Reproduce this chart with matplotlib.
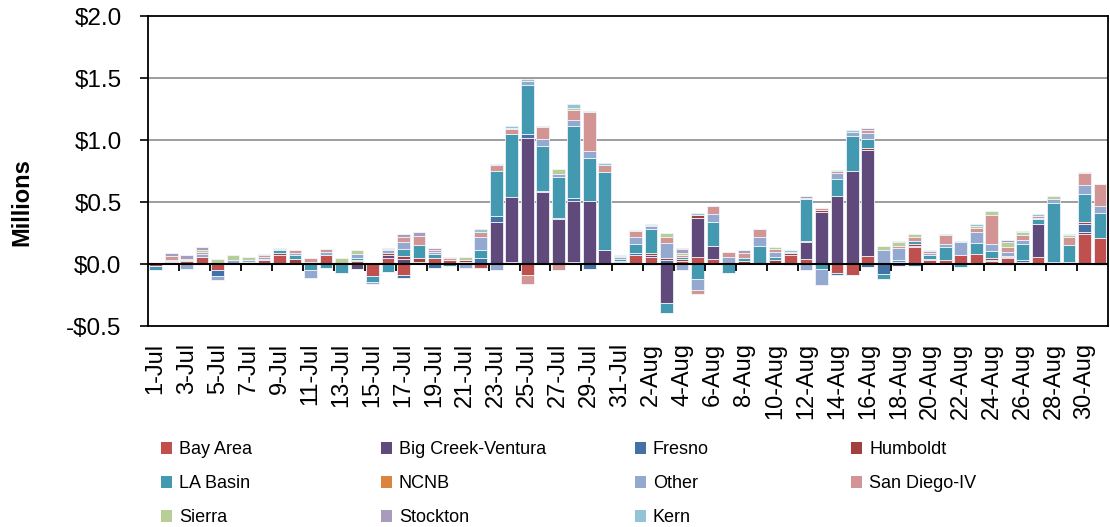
import numpy as np
import matplotlib
matplotlib.use('Agg')
from matplotlib import pyplot as plt
from matplotlib.patches import Patch

plt.rcParams['font.family'] = ['Liberation Sans', 'DejaVu Sans']

days = ['%d-Jul' % d for d in range(1, 32)] + ['%d-Aug' % d for d in range(1, 32)]

regions = ['Bay Area', 'Big Creek-Ventura', 'Fresno', 'Humboldt', 'LA Basin', 'NCNB',
           'Other', 'San Diego-IV', 'Sierra', 'Stockton', 'Kern']
colors = ['#C0504D', '#5F4A7B', '#4472A6', '#A33F3C', '#4299B0', '#DB843D',
          '#93A9CF', '#D39594', '#B9CD96', '#A99BBD', '#92C4D5']

# daily values, $ millions (1-Jul .. 31-Aug)
bay_area = [-0.02, 0.01, 0.025, 0.055, -0.05, 0, 0, 0.035, 0.07, 0.01,
            0.005, 0.075, 0, 0.025, -0.095, 0.05, -0.09, 0, 0.045, 0.03,
            0.02, -0.035, 0.01, 0.015, -0.09, 0, 0.005, 0.02, 0, 0, 0.02,
            0.075, 0.055, 0, 0.025, 0.055, 0.04, 0.005, 0.01, 0.01, 0.01,
            0.07, 0.04, 0, -0.07, -0.085, 0.065, 0.005, 0.01, 0.134, 0.03,
            0.035, 0.07, 0.08, 0.025, 0.045, 0.01, 0.055, 0.015, 0.01, 0.245, 0.21]
big_creek = [0, 0, 0, 0, 0, 0, 0, 0, 0, 0,
             0, 0, 0, -0.04, 0, 0.025, 0.04, 0, 0, 0,
             0, 0, 0.33, 0.527, 1.02, 0.58, 0.36, 0.49, 0.505, 0.116, 0,
             0, 0.02, -0.317, 0, 0.32, 0.108, 0, 0, 0, 0,
             0, 0.134, 0.417, 0.548, 0.747, 0.855, 0, -0.015, 0.01, 0,
             0, 0, 0, 0.01, 0.01, 0.01, 0.27, 0, 0, 0.01, 0]
fresno = [0, 0.005, 0, 0, -0.045, 0, 0, -0.01, 0, 0,
          0, 0, 0, 0.01, 0, 0, -0.025, 0.015, -0.035, 0,
          0, 0.045, 0.05, 0, 0.03, 0.01, 0, 0.02, -0.04, 0, 0,
          0.01, -0.01, 0.03, 0, 0, 0, 0, 0, 0, 0,
          0, 0, 0, -0.015, 0, -0.025, -0.08, 0, -0.02, 0,
          0, 0, 0, 0, 0, 0.01, -0.01, 0, 0, 0.065, -0.01]
humboldt = [0, 0, 0.005, 0, 0, 0, 0, 0, 0.02, 0.03,
            0.01, 0, 0, 0, 0, 0.01, 0.025, 0.03, 0.005, 0.005,
            0.01, 0, 0, 0, 0, 0, 0.01, 0, 0, 0, 0.005,
            0.005, 0.01, 0.015, 0.015, 0.02, 0, 0.005, 0.015, 0, 0.02,
            0.015, 0.015, 0.015, 0, 0, 0.015, 0, 0.01, 0.015, 0.01,
            0, 0, 0, 0.01, 0.01, 0, 0, 0.005, 0.005, 0.015, 0]
la_basin = [-0.03, 0.01, 0, 0.005, 0.01, 0, 0.02, 0.005, 0.025, 0.03,
            -0.05, -0.035, -0.07, 0.01, -0.05, -0.065, 0.06, 0.11, 0.03, -0.02,
            0, 0.07, 0.36, 0.503, 0.39, 0.365, 0.325, 0.583, 0.352, 0.626, 0.015,
            0.075, 0.2, -0.08, 0.015, -0.12, 0.19, -0.075, 0.02, 0.134, 0.025,
            0, 0.336, -0.04, 0.134, 0.285, 0.075, -0.04, 0.01, 0.03, 0.03,
            0.1, -0.025, 0.089, 0.06, -0.01, 0.13, 0.04, 0.473, 0.14, 0.226, 0.2]
ncnb = [0] * 62
other = [0, 0.01, -0.04, 0.02, -0.03, 0.03, 0.015, 0.02, 0, 0.02,
         -0.06, 0.025, 0, 0.035, -0.02, 0.025, 0.05, 0, 0.02, 0,
         -0.03, 0.1, -0.05, 0, 0.035, 0.05, 0.025, 0.05, 0.055, 0, 0.015,
         0.05, 0.02, 0.124, -0.05, -0.09, 0.065, 0.05, 0, 0.075, 0.04,
         -0.01, -0.045, -0.13, 0.05, 0.03, 0.045, 0.108, 0.1, 0, 0.02,
         0.03, 0.105, 0.09, 0.06, 0.03, 0.03, 0.01, 0.035, 0, 0.08, 0.06]
san_diego = [0, 0.03, 0.01, 0.015, 0, 0.005, 0, 0.015, 0.005, 0.02,
             0.035, 0.02, 0.01, 0, 0, 0.01, 0.04, 0.07, 0.01, 0.01,
             0.005, 0.045, 0.045, 0.04, -0.07, 0.1, -0.045, 0.08, 0.315, 0.06, 0.01,
             0.055, 0, 0.045, 0.015, -0.03, 0.065, 0.04, 0.045, 0.065, 0.03,
             0, 0, 0.02, 0.02, 0, 0.025, 0, 0.015, 0.025, 0.015,
             0.07, 0, 0.03, 0.234, 0.045, 0.04, 0.015, 0, 0.065, 0.095, 0.175]
sierra = [0.005, 0, 0, 0.02, 0.03, 0.035, 0.02, 0, 0, 0,
          0, 0, 0.035, 0.035, 0, 0, 0, 0, 0, 0.015,
          0.025, 0, 0, 0.01, 0, 0, 0.04, 0.015, 0, 0, 0,
          0.005, 0, 0.04, 0.02, 0, 0, 0, 0, 0, 0.015,
          0, 0.01, 0, 0, 0, 0, 0.035, 0.03, 0.025, 0,
          0, 0, 0.015, 0.03, 0.04, 0.025, 0, 0.02, 0.01, 0.01, 0]
stockton = [0, 0.02, 0.035, 0.02, 0, 0, 0, 0.005, 0, 0,
            0, 0, 0, 0, 0, 0, 0.025, 0.03, 0.02, 0,
            0, 0, 0, 0, 0, 0, 0, 0, 0, 0, 0,
            0, 0.01, 0, 0.03, 0, 0, 0, 0.02, 0, 0,
            0.015, 0.01, 0, 0, 0, 0.015, 0, 0, 0, 0.01,
            0, 0, 0, 0, 0.015, 0, 0, 0, 0, 0, 0]
kern = [0, 0.005, 0, 0, 0, 0, 0, 0, 0.008, 0,
        0, 0, 0, 0, 0, 0.01, 0, 0, 0, 0,
        0, 0.02, 0.015, 0.015, 0.02, 0.012, 0, 0.035, 0.01, 0.01, 0.005,
        0, 0.01, 0, 0.01, 0.02, 0, 0, 0, 0, 0,
        0.01, 0, 0, 0.01, 0.02, 0, 0, 0.01, 0, 0,
        0.01, 0.01, 0.02, 0, 0, 0.01, 0.015, 0, 0.015, 0, 0]

series = [bay_area, big_creek, fresno, humboldt, la_basin, ncnb,
          other, san_diego, sierra, stockton, kern]

fig = plt.figure(figsize=(11.1, 5.27), dpi=100)
ax = fig.add_axes([0.1333, 0.3814, 0.8647, 0.5882])

x = np.arange(len(days))
pos_base = np.zeros(len(days))
neg_base = np.zeros(len(days))
for vals, col in zip(series, colors):
    v = np.array(vals, dtype=float)
    pos = np.where(v > 0, v, 0)
    neg = np.where(v < 0, v, 0)
    ax.bar(x, pos, 0.82, bottom=pos_base, color=col, edgecolor='#eef2f7', linewidth=0.6, zorder=3)
    ax.bar(x, neg, 0.82, bottom=neg_base, color=col, edgecolor='#eef2f7', linewidth=0.6, zorder=3)
    pos_base += pos
    neg_base += neg

ax.set_xlim(-0.5, len(days) - 0.5)
ax.set_ylim(-0.5, 2.0)
ax.set_yticks([-0.5, 0, 0.5, 1.0, 1.5, 2.0])
ax.set_yticklabels(['-$0.5', '$0.0', '$0.5', '$1.0', '$1.5', '$2.0'], fontsize=17.5)
for yv in [0.5, 1.0, 1.5]:
    ax.axhline(yv, color='#8c8c8c', lw=1.2, zorder=1)
ax.axhline(0, color='black', lw=1.5, zorder=4)
# category tick marks hang off the zero line, every second day
ax.vlines(np.arange(1.5, len(days) - 1, 2), -0.055, 0, color='black', lw=1.3, zorder=4)

ax.set_xticks(x[::2])
ax.set_xticklabels(days[::2], rotation=90, fontsize=17)
ax.tick_params(axis='x', length=0, pad=12)
ax.tick_params(axis='y', length=6, width=1.2, direction='out', pad=13)
for sp in ax.spines.values():
    sp.set_color('black')
    sp.set_linewidth(1.3)

fig.text(0.02, 0.617, 'Millions', rotation=90, fontsize=17, fontweight='bold',
         ha='center', va='center')

# legend laid out in four columns, filled row by row
handles = [Patch(facecolor=c, edgecolor='none') for c in colors]
col_x = [0.145, 0.343, 0.572, 0.767]
for k, cx in enumerate(col_x):
    idx = list(range(k, len(regions), 4))
    fig.legend([handles[i] for i in idx], [regions[i] for i in idx],
               loc='upper left', bbox_to_anchor=(cx, 0.1625), frameon=False,
               fontsize=13, handlelength=0.6, handleheight=0.6,
               handletextpad=0.4, labelspacing=0.94, borderpad=0, borderaxespad=0)

fig.savefig('out.png', dpi=100)
